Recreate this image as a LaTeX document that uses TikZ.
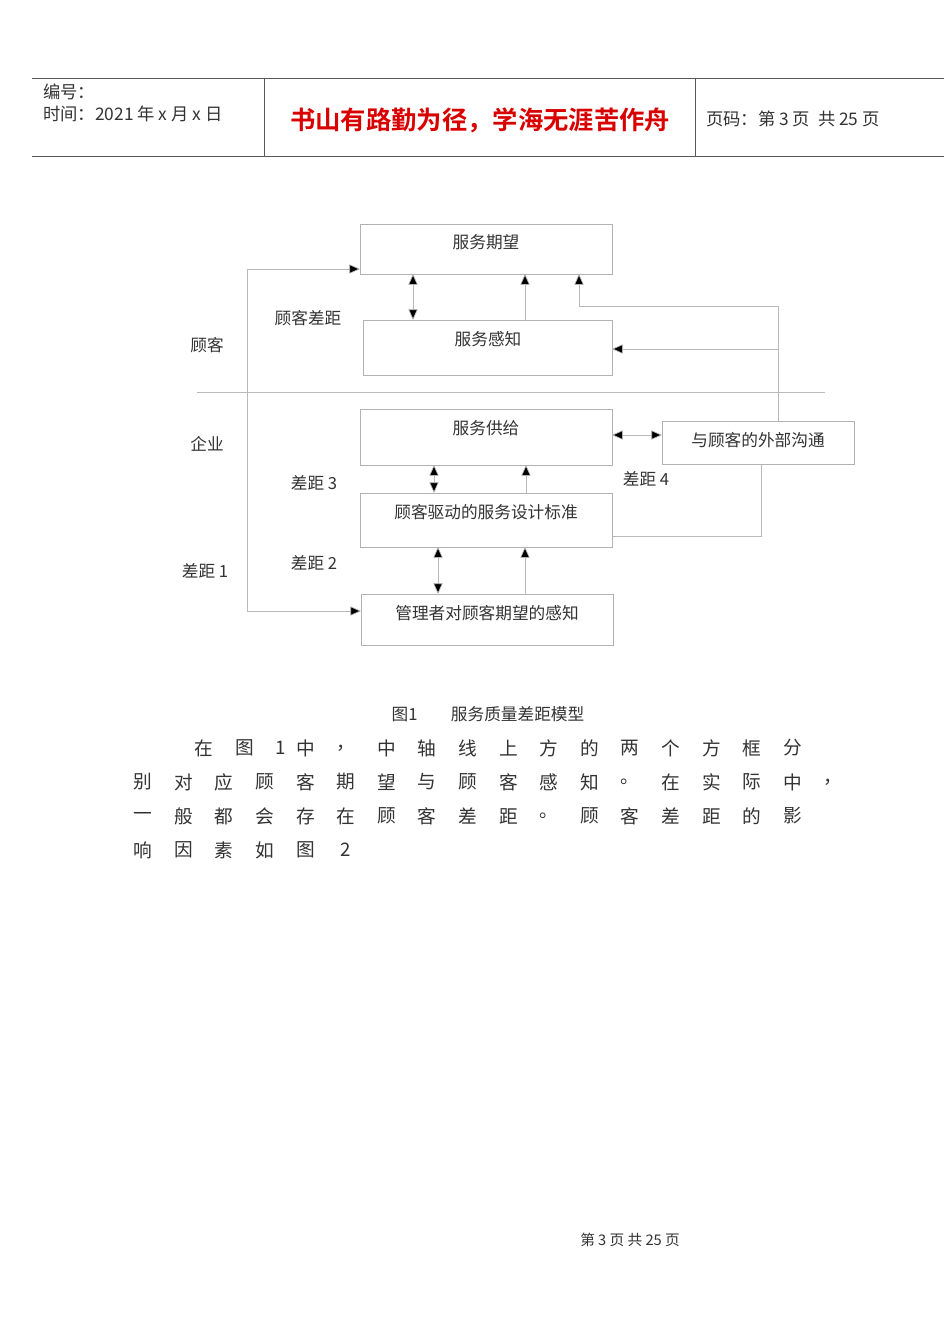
\documentclass[tikz,border=0pt]{standalone}
\usepackage{fontspec}
\setmainfont{Liberation Serif}
\newfontfamily\cjk{Noto Sans CJK SC}
\newfontfamily\cjkb{Noto Sans CJK SC}[BoldFont=* Bold]
\usetikzlibrary{arrows.meta}
\begin{document}
\begin{tikzpicture}[x=0.75pt,y=-0.75pt,
  bx/.style={draw=gray!60,line width=0.5pt,inner sep=0pt},
  ln/.style={draw=gray!55,line width=0.5pt},
  ar/.style={ln,-{Triangle[length=8pt,width=7pt,fill=black]}},
  dar/.style={ln,{Triangle[length=8pt,width=7pt,fill=black]}-{Triangle[length=8pt,width=7pt,fill=black]}},
  lab/.style={font=\cjk\fontsize{12.5}{14}\selectfont,inner sep=0pt,text=black!80},
  bt/.style={font=\cjk\fontsize{14}{15}\selectfont,inner sep=0pt,text=black!80}]
\useasboundingbox (0,0) rectangle (950,1342);
\fill[white] (0,0) rectangle (950,1342);
% header
\draw[line width=0.6pt,gray!70!black] (32,78) -- (944,78) (32,156) -- (944,156) (264,78) -- (264,156) (695,78) -- (695,156);
\node[lab,anchor=west,font=\cjk\fontsize{13}{14}\selectfont] (h1) at (43,92) {编号：};
\node[lab,anchor=west,font=\cjk\fontsize{13}{14}\selectfont] (h2) at (43,114) {时间：2021 年 x 月 x 日};
\node[inner sep=0pt,text=red!85!black,font=\cjkb\bfseries\fontsize{19}{20}\selectfont] (h3) at (480,120) {书山有路勤为径，学海无涯苦作舟};
\node[lab,anchor=west,font=\cjk\fontsize{13}{14}\selectfont] (h4) at (706,119) {页码：第 3 页\ \ 共 25 页};
% boxes
\node[bx,minimum width=189pt,minimum height=37.5pt,anchor=north west] (qw) at (360,224) {};
\node[lab] at (486,242) {服务期望};
\node[bx,minimum width=186.75pt,minimum height=41.25pt,anchor=north west] (gz) at (363,320) {};
\node[lab] at (488,339) {服务感知};
\node[bx,minimum width=189pt,minimum height=42pt,anchor=north west] (gj) at (360,409) {};
\node[lab] at (486,428) {服务供给};
\node[bx,minimum width=144pt,minimum height=32.25pt,anchor=north west] (gt) at (662,421) {};
\node[lab] at (758,440) {与顾客的外部沟通};
\node[bx,minimum width=189pt,minimum height=40.5pt,anchor=north west] (bz) at (360,493) {};
\node[lab] at (486,512) {顾客驱动的服务设计标准};
\node[bx,minimum width=189pt,minimum height=38.25pt,anchor=north west] (gl) at (361,594) {};
\node[lab] at (487,613) {管理者对顾客期望的感知};
% separator
\draw[ln] (197,392) -- (825,392);
% labels
\node[lab] at (308,318) {顾客差距};
\node[lab] at (207,345) {顾客};
\node[lab] at (207,444) {企业};
\node[lab] at (314,483) {差距 3};
\node[lab] at (646,479) {差距 4};
\node[lab] at (314,563) {差距 2};
\node[lab] at (205,571) {差距 1};
% connectors
\coordinate (l1) at (247,269); \coordinate (l2) at (247,611);
\draw[ar] (l1) -- (qw.west |- 0,269);
\draw[ar] (l1) -- (l2) -- (gl.west |- 0,611);
\draw[dar] (413,274) -- (413,320);
\draw[ar] (525,320) -- (525,274);
\coordinate (c1) at (778,421); \coordinate (c2) at (778,306);
\draw[ar] (c1) -- (c2) -- (579,306) -- (579,274);
\draw[ar] (778,349) -- (612,349);
\draw[dar] (612,435) -- (662,435);
\draw[dar] (434,465) -- (434,493);
\draw[ar] (526,493) -- (526,465);
\draw[dar] (438,547) -- (438,594);
\draw[ar] (525,594) -- (525,547);
\draw[ln] (612,536) -- (761,536) -- (761,464);
% caption
\node[lab] at (488,714) {图1\qquad 服务质量差距模型};
% body
\foreach \c/\i in {在/1.5,图/2.5,1/3.4,中/4,，/5,中/6,轴/7,线/8,上/9,方/10,的/11,两/12,个/13,方/14,框/15,分/16}
  \node[bt] at (143+\i*40.6,748) {\c};
\foreach \c [count=\i from 0] in {别,对,应,顾,客,期,望,与,顾,客,感,知,。,在,实,际,中,，}
  \node[bt] at (143+\i*40.6,782) {\c};
\foreach \c [count=\i from 0] in {一,般,都,会,存,在,顾,客,差,距,。,顾,客,差,距,的,影}
  \node[bt] at (143+\i*40.6,816) {\c};
\foreach \c [count=\i from 0] in {响,因,素,如,图,2}
  \node[bt] at (143+\i*40.6,850) {\c};
% footer
\node[lab,font=\cjk\fontsize{11}{12}\selectfont] (ft) at (630,1240) {第 3 页 共 25 页};
\end{tikzpicture}
\end{document}
